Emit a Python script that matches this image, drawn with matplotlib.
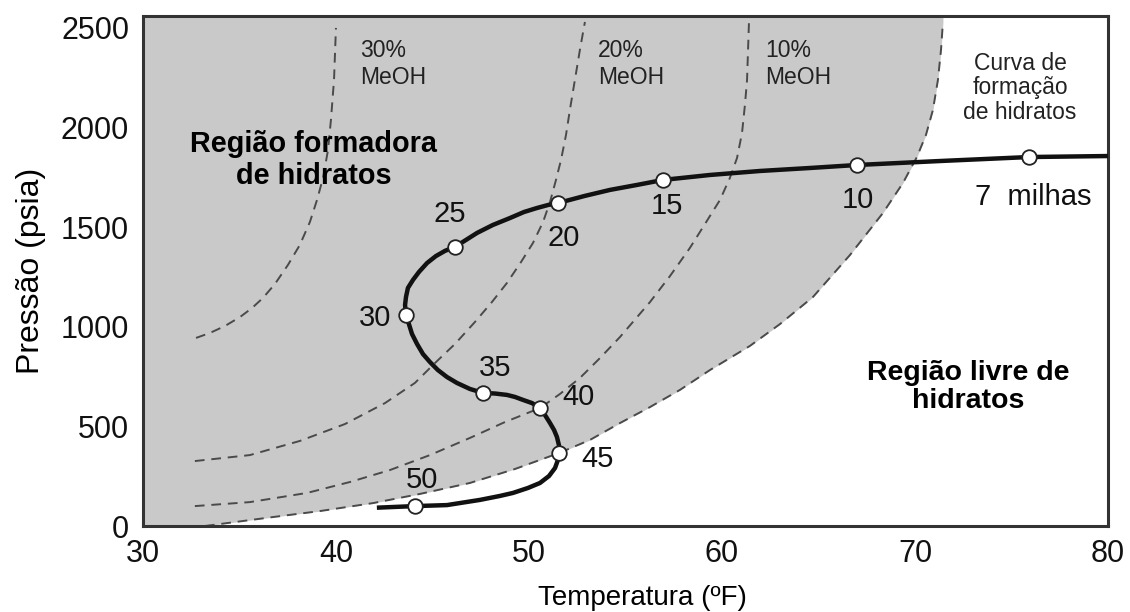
import matplotlib.pyplot as plt

plt.rcParams['font.family'] = ['Liberation Sans', 'DejaVu Sans']

# perfil do duto (temperatura ºF, pressão psia)
pipe_t = [42.12, 44.09, 45.75, 47.46, 48.50, 49.17, 49.95, 50.57, 51.04, 51.35,
          51.50, 51.55, 51.55, 51.45, 51.30, 51.09, 50.83, 50.57, 50.16, 49.69,
          49.27, 48.86, 48.24, 47.62, 46.94, 46.27, 45.75, 45.28, 44.87, 44.51,
          44.20, 43.94, 43.78, 43.63, 43.58, 43.63, 43.73, 43.99, 44.30, 44.72,
          45.18, 45.65, 46.17, 46.74, 47.31, 48.13, 49.02, 49.74, 50.41, 50.98,
          51.50, 52.90, 54.20, 55.60, 56.94, 59.38, 61.97, 64.56, 66.99, 71.30,
          75.91, 80.0]
pipe_p = [92, 100, 105, 131, 151, 166, 191, 216, 251, 291,
          331, 366, 407, 447, 482, 517, 557, 592, 617, 633,
          648, 658, 665, 668, 688, 718, 748, 783, 823, 863,
          914, 964, 1014, 1059, 1109, 1150, 1195, 1235, 1275, 1320,
          1355, 1381, 1401, 1436, 1471, 1511, 1546, 1576, 1596, 1611,
          1621, 1657, 1687, 1712, 1737, 1762, 1782, 1797, 1812, 1832,
          1852, 1857]

# pontos marcados ao longo do duto
mile_labels = ['50', '45', '40', '35', '30', '25', '20', '15', '10', '7  milhas']
mile_t = [44.09, 51.55, 50.57, 47.62, 43.63, 46.17, 51.50, 56.94, 66.99, 75.91]
mile_p = [100, 366, 592, 668, 1059, 1401, 1621, 1737, 1812, 1852]

# curvas de hidrato com metanol
meoh30_t = [32.75, 33.47, 34.25, 35.03, 35.65, 36.22, 36.84, 37.51, 38.13, 38.65,
            39.02, 39.33, 39.59, 39.74, 39.90, 40.0]
meoh30_p = [944, 969, 1004, 1049, 1094, 1145, 1215, 1310, 1411, 1526,
            1637, 1747, 1888, 2038, 2239, 2500]

meoh20_t = [32.69, 35.54, 38.13, 40.47, 42.54, 44.09, 45.13, 46.17, 47.20, 48.08,
            48.86, 49.59, 50.21, 50.73, 51.09, 51.40, 51.66, 51.92, 52.12, 52.38,
            52.64, 52.90]
meoh20_p = [326, 356, 427, 512, 617, 718, 818, 914, 1024, 1124,
            1220, 1325, 1421, 1526, 1626, 1737, 1837, 1963, 2088, 2239,
            2390, 2530]

meoh10_t = [32.69, 35.54, 38.50, 40.73, 42.80, 44.87, 46.94, 48.76, 50.57, 51.61,
            52.64, 53.68, 54.72, 56.27, 57.31, 58.34, 59.12, 59.90, 60.41, 60.78,
            61.04, 61.19, 61.30, 61.40]
meoh10_p = [100, 120, 166, 221, 281, 356, 442, 522, 592, 663,
            743, 843, 949, 1124, 1255, 1396, 1516, 1637, 1747, 1847,
            1973, 2113, 2239, 2530]

# curva de formação de hidratos (sem inibidor)
hyd_t = [33.21, 36.74, 39.17, 41.92, 44.35, 46.94, 49.27, 51.55, 53.16, 54.72,
         56.27, 57.82, 59.38, 61.45, 63.01, 64.72, 66.63, 68.34, 69.38, 70.10,
         70.57, 70.93, 71.19, 71.35, 71.45]
hyd_p = [0, 45, 75, 115, 161, 216, 286, 366, 432, 517,
         597, 683, 783, 904, 1014, 1150, 1360, 1571, 1722, 1852,
         1963, 2088, 2239, 2390, 2530]

xmin, xmax = 30, 80
ymin, ymax = 0, 2560

fig = plt.figure(figsize=(11.3, 6.12), dpi=100)
ax = fig.add_axes([0.1265, 0.1405, 0.854, 0.8334])
ax.set_xlim(xmin, xmax)
ax.set_ylim(ymin, ymax)

gray = '#c9c9c9'
ax.fill_betweenx(hyd_p + [ymax], xmin, hyd_t + [hyd_t[-1]], color=gray, lw=0, zorder=0)

dash = dict(color='#4a4a4a', lw=1.4, ls=(0, (5, 3.5)), zorder=2)
ax.plot(meoh30_t, meoh30_p, **dash)
ax.plot(meoh20_t, meoh20_p, **dash)
ax.plot(meoh10_t, meoh10_p, **dash)
ax.plot(hyd_t, hyd_p, **dash)

ax.plot(pipe_t, pipe_p, color='#111111', lw=3.2, solid_capstyle='butt',
        solid_joinstyle='round', zorder=3)
ax.plot(mile_t, mile_p, 'o', ms=10.5, mfc='white', mec='#222222', mew=1.3, zorder=4)

label_offsets = [(5, 19), (28, -4), (28, 8), (9, 18), (-22, -2),
                 (-4, 24), (4, -25), (3, -19), (1, -25), (3, -29)]
for lab, t, p, off in zip(mile_labels, mile_t, mile_p, label_offsets):
    ax.annotate(lab, (t, p), xytext=off, textcoords='offset points',
                ha='center', va='center', fontsize=21, color='#111111', zorder=5)

meoh_kw = dict(fontsize=16.5, ha='left', va='center', linespacing=1.25, color='#222222')
ax.text(41.24, 2319, '30%\nMeOH', **meoh_kw)
ax.text(53.58, 2319, '20%\nMeOH', **meoh_kw)
ax.text(62.23, 2319, '10%\nMeOH', **meoh_kw)
ax.text(75.44, 2199, 'Curva de\nformação\nde hidratos', fontsize=16.5, ha='center',
        va='center', linespacing=1.1, color='#222222')

ax.text(38.86, 1837, 'Região formadora\nde hidratos', fontsize=20.8, fontweight='bold',
        ha='center', va='center', linespacing=1.15)
ax.text(72.75, 698, 'Região livre de\nhidratos', fontsize=20.5, fontweight='bold',
        ha='center', va='center', linespacing=1.1)

ax.set_xticks([30, 40, 50, 60, 70, 80])
ax.set_yticks([0, 500, 1000, 1500, 2000, 2500])
ax.tick_params(axis='both', length=0, labelsize=22, colors='#111111')
ax.tick_params(axis='x', pad=9)
ax.tick_params(axis='y', pad=10)

for sp in ax.spines.values():
    sp.set_linewidth(2.2)
    sp.set_color('#333333')

ax.set_xlabel('Temperatura (ºF)', fontsize=20)
ax.set_ylabel('Pressão (psia)', fontsize=23)
ax.xaxis.set_label_coords(0.518, -0.115)
ax.yaxis.set_label_coords(-0.1, 0.5)

plt.savefig('out.png', dpi=100)
